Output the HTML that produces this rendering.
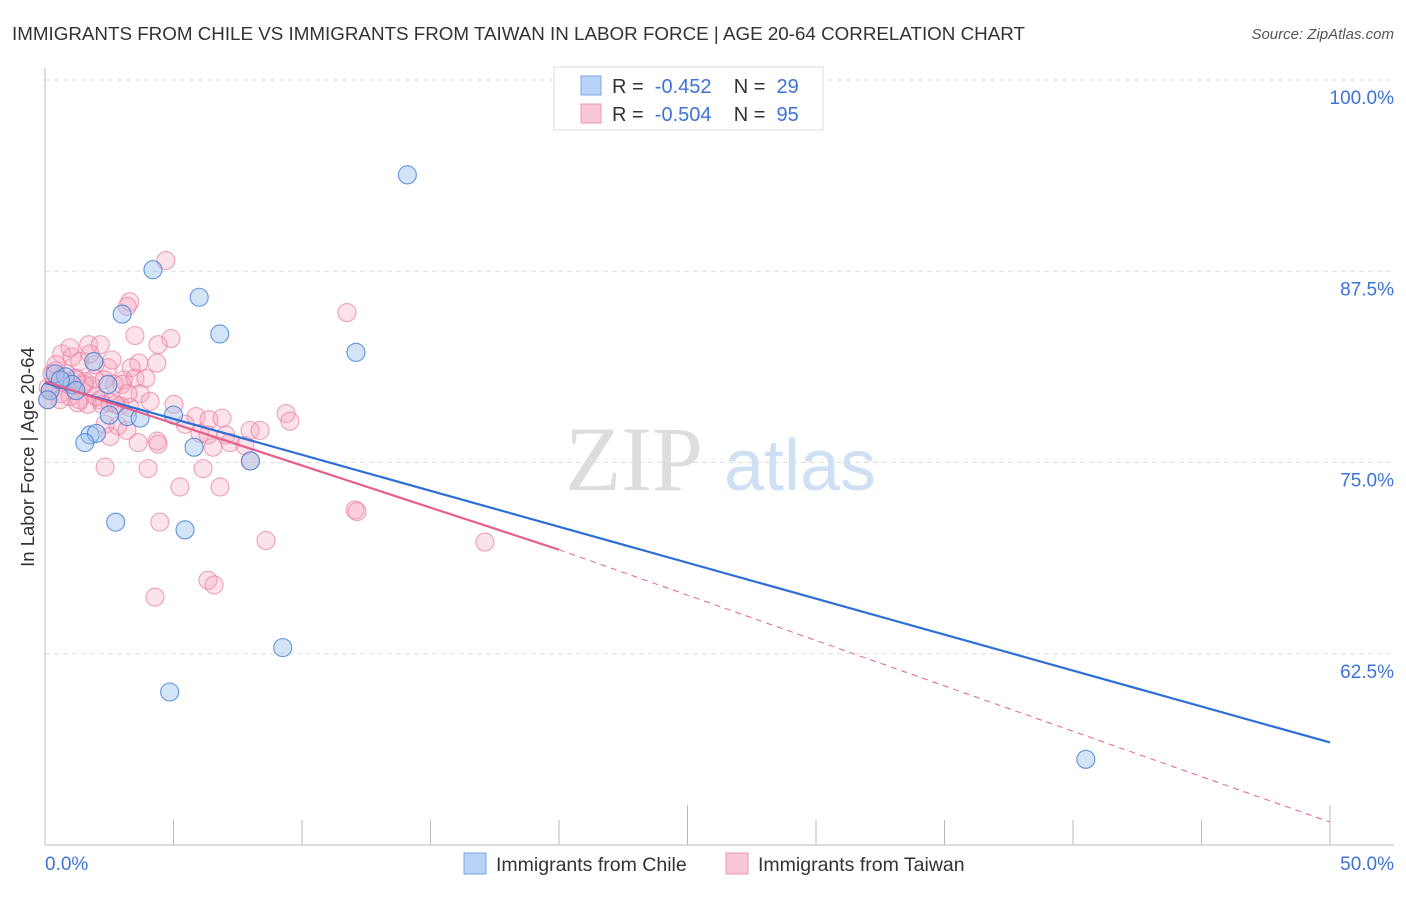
<!DOCTYPE html>
<html><head><meta charset="utf-8"><style>
body{margin:0;background:#fff;font-family:"Liberation Sans",sans-serif}
</style></head><body>
<svg width="1406" height="892" xmlns="http://www.w3.org/2000/svg" style="font-family:'Liberation Sans',sans-serif">
<text x="12" y="40" font-size="18.8" fill="#333">IMMIGRANTS FROM CHILE VS IMMIGRANTS FROM TAIWAN IN LABOR FORCE | AGE 20-64 CORRELATION CHART</text>
<text x="1394" y="39" font-size="15" fill="#555" text-anchor="end" font-style="italic">Source: ZipAtlas.com</text>
<g id="grid"></g>
<g>
<text x="634" y="490" font-size="92" fill="#ddd" text-anchor="middle" font-family="Liberation Serif">ZIP</text>
<text x="800" y="490" font-size="72" fill="#cfe0f5" text-anchor="middle">atlas</text>
</g>
<line x1="45" y1="68" x2="45" y2="845" stroke="#bbb"/>
<line x1="45" y1="845" x2="1394" y2="845" stroke="#bbb"/>
<g id="xticks"></g>
<text transform="translate(34,457) rotate(-90)" font-size="18.5" fill="#333" text-anchor="middle">In Labor Force | Age 20-64</text>
<text x="45" y="870" font-size="19" fill="#3d73d6">0.0%</text>
<text x="1394" y="870" font-size="19" fill="#3d73d6" text-anchor="end">50.0%</text>
<g id="pts"></g>
<g id="lines"></g>
<g>
<rect x="554" y="67" width="269" height="63" fill="#fff" stroke="#ddd"/>
<rect x="581" y="76" width="20" height="19" fill="#b8d3f5" stroke="#7aa6e3"/>
<rect x="581" y="104" width="20" height="19" fill="#f9c8d6" stroke="#ee9ab5"/>
<text x="612" y="93" font-size="20" fill="#333" xml:space="preserve">R =  <tspan fill="#3d73d6">-0.452</tspan>    N =  <tspan fill="#3d73d6">29</tspan></text>
<text x="612" y="121" font-size="20" fill="#333" xml:space="preserve">R =  <tspan fill="#3d73d6">-0.504</tspan>    N =  <tspan fill="#3d73d6">95</tspan></text>
</g>
<g>
<rect x="464" y="853" width="22" height="21" fill="#b8d3f5" stroke="#7aa6e3"/>
<text x="496" y="871" font-size="19.5" fill="#333">Immigrants from Chile</text>
<rect x="726" y="853" width="22" height="21" fill="#f9c8d6" stroke="#ee9ab5"/>
<text x="758" y="871" font-size="19.5" fill="#333">Immigrants from Taiwan</text>
</g>
</svg>
<script>
const yTicks=[100,87.5,75,62.5];
const yTickLabels=["100.0%","87.5%","75.0%","62.5%"];
const xTicks=[0,5,10,15,20,25,30,35,40,45,50];
const chileX=[14.1,4.2,6.0,3.0,6.8,12.1,1.9,0.4,0.8,1.05,0.2,2.45,2.5,3.2,3.7,5.0,1.75,2.0,1.55,5.8,8.0,2.75,5.45,9.25,4.85,40.5,0.6,1.2,0.1];
const chileY=[93.8,87.6,85.8,84.7,83.4,82.2,81.6,80.8,80.6,80.1,79.7,80.1,78.1,78.0,77.9,78.1,76.8,76.9,76.3,76.0,75.1,71.1,70.6,62.9,60.0,55.6,80.4,79.7,79.1];
const taiwanX=[4.7,3.3,3.2,11.75,3.5,4.9,4.4,1.7,2.15,0.65,1.05,1.35,1.95,2.45,3.65,3.35,4.35,0.4,0.8,1.2,1.55,1.8,2.7,3.05,3.5,0.2,0.6,0.97,1.35,1.65,2.15,2.53,2.92,3.3,5.02,9.38,9.53,5.88,6.38,6.89,6.34,7.04,7.98,8.37,6.03,3.62,4.36,4.4,2.34,2.84,3.19,2.53,2.34,4.01,6.15,7.98,6.54,7.78,5.25,6.81,4.47,12.06,12.14,8.6,17.12,6.34,6.58,4.28,0.2,0.12,0.27,0.5,0.82,1.2,1.52,1.98,2.22,2.76,2.99,1.75,0.97,3.93,3.7,2.61,0.58,1.28,1.91,2.3,0.12,0.43,3.23,4.09,5.45,7.2];
const taiwanY=[88.2,85.5,85.2,84.8,83.3,83.1,82.7,82.7,82.7,82.1,81.9,81.6,81.4,81.2,81.5,81.2,81.5,81.0,80.8,80.5,80.3,80.0,80.1,80.4,80.5,79.7,79.5,79.3,79.1,78.8,79.1,78.9,78.7,78.6,78.8,78.2,77.7,78.0,77.8,77.9,76.8,76.8,77.1,77.1,76.9,76.3,76.4,76.2,77.5,77.4,77.1,76.7,74.7,74.6,74.6,75.1,76.0,76.1,73.4,73.4,71.1,71.9,71.8,69.9,69.8,67.3,67.0,66.2,79.7,79.1,80.8,80.4,80.3,80.4,80.1,79.3,78.8,78.8,80.1,82.1,82.5,80.5,79.5,81.7,79.1,78.9,80.5,80.4,79.9,81.4,79.5,79.0,77.5,76.3];
const X=v=>45+v*25.7, Y=v=>80+(100-v)*15.3;
const ns="http://www.w3.org/2000/svg";
function mk(t,a,p){const e=document.createElementNS(ns,t);for(const k in a)e.setAttribute(k,a[k]);p.appendChild(e);return e;}
const grid=document.getElementById('grid');
yTicks.forEach((v,i)=>{
 const l=mk('line',{x1:45,x2:1394,y1:Y(v),y2:Y(v),stroke:'#ddd','stroke-dasharray':'5,4'},grid);
 
 
 const t=mk('text',{x:1394,y:Y(v)+24,'font-size':19,fill:'#3d73d6','text-anchor':'end'},grid);
 t.textContent=yTickLabels[i];
 
 
});
const xt=document.getElementById('xticks');
xTicks.forEach(v=>{
 const l=mk('line',{x1:X(v),x2:X(v),y1:v==25||v==50?805:820,y2:845,stroke:'#bbb'},xt);
 
 
});
const pts=document.getElementById('pts');
taiwanX.forEach((x,i)=>{
 const c=mk('circle',{cx:X(x),cy:Y(taiwanY[i]),r:9,fill:'rgba(244,160,185,0.3)',stroke:'rgba(232,125,160,0.7)','stroke-width':1.1},pts);
 
 
});
chileX.forEach((x,i)=>{
 const c=mk('circle',{cx:X(x),cy:Y(chileY[i]),r:9,fill:'rgba(160,196,240,0.45)',stroke:'rgba(70,130,215,0.85)','stroke-width':1.1},pts);
 
 
});
const lg=document.getElementById('lines');
let l=mk('line',{x1:X(0),y1:Y(80.2),x2:X(50),y2:Y(56.7),stroke:'#2e6fd6','stroke-width':2.2},lg);


l=mk('line',{x1:X(0),y1:Y(80.3),x2:X(20),y2:Y(69.3),stroke:'#e8608a','stroke-width':2.2},lg);


l=mk('line',{x1:X(20),y1:Y(69.3),x2:X(50),y2:Y(51.5),stroke:'#e8608a','stroke-width':1,'stroke-dasharray':'6,5'},lg);


</script>
</body></html>
